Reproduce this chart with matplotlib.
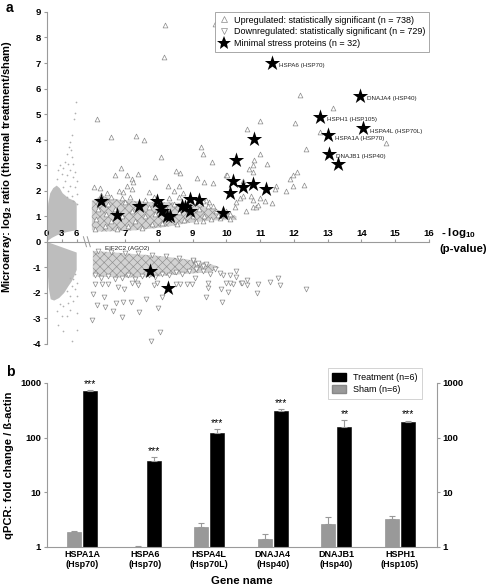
import numpy as np
import matplotlib
matplotlib.use('Agg')
import matplotlib.pyplot as plt
from matplotlib.lines import Line2D
from matplotlib.patches import Patch

plt.rcParams['font.family'] = ['Liberation Sans', 'DejaVu Sans']
plt.rcParams['mathtext.fontset'] = 'custom'
plt.rcParams['mathtext.rm'] = 'Liberation Sans'
plt.rcParams['mathtext.bf'] = 'Liberation Sans:bold'
plt.rcParams['hatch.linewidth'] = 0.45

# ---------------- panel a data ----------------
# non-significant genes: dense grey cloud outline (x <= 6, compressed part)
cloud_up_x = [0.0, 0.1, 0.3, 0.7, 1.3, 2.0, 2.6, 3.2, 3.8, 4.4, 5.0, 5.6, 6.0,
              6.0, 5.0, 4.0, 3.0, 2.0, 1.0, 0.3]
cloud_up_y = [0.05, 0.8, 1.5, 1.9, 2.1, 2.2, 2.1, 1.9, 1.8, 1.7, 1.65, 1.6, 1.5,
              0.45, 0.42, 0.38, 0.32, 0.25, 0.15, 0.05]
cloud_dn_x = [0.0, 6.0, 6.0, 5.5, 5.0, 4.3, 3.5, 2.5, 1.5, 0.8, 0.4, 0.15, 0.0]
cloud_dn_y = [0.0, -0.42, -1.1, -1.35, -1.55, -1.75, -2.0, -2.2, -2.3, -2.25,
              -1.8, -1.0, -0.2]
# scattered grey dots outside the dense cloud
dots_x = [5.8, 5.66, 5.46, 5.13, 4.66, 4.53, 4.86, 4.0, 5.0, 3.66, 4.33, 2.66, 3.33,
          5.33, 2.33, 3.0, 4.66, 5.66, 4.0, 5.2, 2.0, 6.0, 3.66, 4.66, 5.66, 4.33,
          3.33, 6.0, 5.0, 4.0, 5.33, 6.0,
          5.0, 3.33, 6.0, 2.33, 4.0, 3.0, 6.0, 4.66, 2.0, 3.33, 4.33, 5.33, 2.66,
          6.0, 4.66, 5.66, 4.0, 5.0, 6.0, 5.33, 4.66, 5.66]
dots_y = [5.48, 5.03, 4.79, 4.17, 3.91, 3.71, 3.58, 3.45, 3.32, 3.12, 3.06, 2.99, 2.9,
          3.06, 2.8, 2.67, 2.8, 2.73, 2.6, 2.53, 2.47, 2.4, 2.4, 2.2, 2.14, 2.0,
          2.14, 1.88, 1.81, 1.74, 1.61, 1.48,
          -3.87, -3.5, -3.44, -3.24, -2.91, -2.91, -2.78, -2.65, -2.72, -2.52, -2.39,
          -2.32, -2.45, -2.13, -2.13, -1.86, -1.93, -1.73, -1.6, -1.47, -1.4, -1.27]

# significant up-regulated: dense core outline + individual triangles
core_up_x = [6.02, 6.02, 6.3, 6.8, 7.3, 7.8, 8.3, 8.8, 9.2, 9.6, 10.0, 10.3,
             10.3, 9.8, 9.3, 8.8, 8.3, 7.8, 7.3, 6.8, 6.3]
core_up_y = [0.45, 1.6, 1.8, 1.65, 1.6, 1.55, 1.55, 1.5, 1.45, 1.3, 1.15, 1.0,
             0.85, 0.85, 0.8, 0.72, 0.6, 0.52, 0.45, 0.42, 0.4]
up_x = [8.18, 8.16, 9.66, 6.16, 6.59, 7.33, 7.56, 8.07, 6.87, 6.7, 7.05, 7.2, 7.25,
        7.38, 7.89, 8.51, 8.63, 9.24, 9.32, 9.12, 9.34, 9.57, 9.61, 10.0, 10.62,
        6.09, 6.26, 6.46, 6.82, 8.28, 8.71,
        12.18, 13.15, 10.99, 12.03, 12.77, 14.74, 12.35, 10.99, 10.82, 10.8, 11.19,
        12.08, 11.98, 11.9, 12.3, 11.78, 11.47, 10.48, 10.68, 10.78, 10.03, 11.98,
        11.44, 10.73, 10.78, 11.01, 11.14, 11.36, 10.8, 10.88, 10.93, 10.58, 10.3,
        10.4, 10.5, 10.25, 9.32, 10.0, 9.9, 10.1, 9.75, 9.6, 9.5, 9.4,
        7.05, 7.2, 6.95, 8.6, 8.45, 7.7,
        6.1, 6.15, 6.2, 6.25, 6.4, 6.45, 6.5, 6.6, 6.7, 6.75, 6.9, 7.0, 7.1, 7.2,
        7.3, 7.45, 7.5, 7.6, 7.7, 7.8, 7.9, 8.0, 8.1, 8.2, 8.35, 8.45, 8.55, 8.6,
        8.75, 8.85, 9.0, 9.1, 9.2, 9.35, 9.45, 9.55, 9.7, 9.8, 9.95, 10.1,
        6.3, 6.6, 6.9, 7.15, 7.6, 7.85, 8.3, 8.6, 8.9, 9.3]
up_y = [8.5, 7.23, 8.54, 4.8, 4.11, 4.15, 3.98, 3.32, 2.89, 2.6, 2.6, 2.47, 2.33,
        2.67, 2.53, 2.76, 2.7, 3.71, 3.43, 2.51, 2.36, 3.12, 2.3, 2.6, 4.4,
        2.14, 2.09, 1.9, 2.0, 2.2, 1.9,
        5.75, 5.22, 4.74, 4.66, 4.3, 3.87, 3.65, 3.43, 3.19, 3.02, 3.06,
        2.73, 2.6, 2.47, 2.23, 1.98, 2.2, 2.4, 2.86, 2.73, 2.6, 2.17,
        2.06, 1.78, 1.65, 1.72, 1.59, 1.53, 1.38, 1.38, 1.46, 1.22, 1.55,
        1.72, 1.81, 1.38, 0.83, 1.2, 1.3, 1.1, 1.05, 1.4, 1.55, 1.65,
        2.2, 2.05, 1.95, 2.2, 2.0, 1.95,
        0.5, 0.9, 1.3, 1.7, 0.6, 1.1, 1.5, 0.8, 1.3, 0.5, 1.0, 1.55, 0.6, 1.2,
        0.8, 1.5, 0.55, 1.0, 1.35, 0.7, 1.1, 1.5, 0.75, 1.3, 0.9, 1.5, 0.7, 1.15,
        0.85, 1.45, 1.0, 0.8, 1.3, 1.0, 1.4, 0.9, 1.2, 0.95, 1.05, 0.9,
        1.85, 1.75, 1.7, 1.75, 1.65, 1.75, 1.7, 1.75, 1.55, 1.6]

# significant down-regulated
core_dn_x = [6.05, 7.0, 8.0, 8.8, 9.5, 9.8, 9.5, 8.8, 8.0, 7.0, 6.05]
core_dn_y = [-0.35, -0.45, -0.55, -0.68, -0.85, -1.0, -1.2, -1.25, -1.35, -1.4, -1.35]
dn_x = [7.77, 8.04, 6.03, 6.9, 7.42, 7.98, 6.18, 6.41, 6.65, 6.72, 6.95, 7.17, 6.06,
        6.38, 7.62, 8.1, 6.11, 6.31, 6.49, 6.8, 6.98, 7.2, 7.35, 7.4, 7.85, 7.95,
        8.5, 8.63, 8.83, 8.98, 9.0, 9.1,
        9.86, 9.4, 10.04, 9.83, 9.46, 10.91, 10.94, 10.62, 10.62, 10.42, 10.45, 10.2,
        10.1, 10.0, 10.3, 10.3, 10.1, 9.9, 9.8, 11.29, 11.54, 11.59, 12.37,
        9.12, 9.17, 9.4, 9.66, 9.51, 9.32, 9.07, 9.46,
        6.1, 6.3, 6.5, 6.7, 6.9, 7.1, 7.3, 7.5, 7.7, 7.9, 8.1, 8.3, 8.5, 8.7, 8.9,
        9.1, 9.3, 6.2, 6.6, 7.0, 7.4, 7.8, 8.2, 8.6, 9.0]
dn_y = [-3.9, -3.53, -3.07, -2.95, -2.74, -2.59, -2.49, -2.55, -2.69, -2.39, -2.35,
        -2.35, -2.03, -2.17, -2.22, -2.17, -1.67, -1.67, -1.64, -1.77, -1.85, -1.6,
        -1.6, -1.7, -1.7, -1.6, -1.65, -1.67, -1.67, -1.67, -0.75, -0.85,
        -2.36, -2.17, -1.97, -1.84, -1.8, -2.0, -1.67, -1.71, -1.51, -1.6, -1.63,
        -1.67, -1.6, -1.6, -1.38, -1.14, -1.3, -1.28, -1.24, -1.57, -1.4, -1.7, -1.84,
        -1.01, -0.84, -0.85, -1.08, -1.27, -1.14, -1.4, -1.6,
        -1.3, -1.4, -1.35, -1.45, -1.4, -1.3, -1.45, -1.35, -1.3, -1.38, -1.25,
        -1.3, -1.2, -1.25, -1.15, -1.05, -0.95, -0.35, -0.4, -0.42, -0.45, -0.5,
        -0.55, -0.62, -0.7]

# minimal stress proteins
star_x = [11.34, 13.95, 12.77, 14.05, 13.02, 13.04, 13.32, 10.83, 10.50, 10.78,
          11.16, 10.28, 10.20, 10.11, 6.28, 6.77, 7.42, 7.94, 8.07, 8.10, 8.23,
          8.33, 8.68, 8.78, 8.92, 8.92, 9.20, 9.91, 7.74, 8.26]
star_y = [7.02, 5.72, 4.89, 4.44, 4.17, 3.45, 3.06, 4.04, 2.14, 2.27, 2.07, 3.22,
          2.40, 1.90, 1.61, 1.06, 1.39, 1.61, 1.35, 1.19, 1.02, 1.00, 1.42, 1.38,
          1.68, 1.19, 1.65, 1.13, -1.14, -1.82]
star_names = ['HSPA6 (HSP70)', 'DNAJA4 (HSP40)', 'HSPH1 (HSP105)',
              'HSPA4L (HSP70L)', 'HSPA1A (HSP70)', 'DNAJB1 (HSP40)']

x_ticks = [0, 3, 6, 7, 8, 9, 10, 11, 12, 13, 14, 15, 16]
y_ticks = [-4, -3, -2, -1, 0, 1, 2, 3, 4, 5, 6, 7, 8, 9]

# ---------------- panel b data ----------------
genes = ['HSPA1A\n(Hsp70)', 'HSPA6\n(Hsp70)', 'HSPA4L\n(Hsp70L)',
         'DNAJA4\n(Hsp40)', 'DNAJB1\n(Hsp40)', 'HSPH1\n(Hsp105)']
treat = [720, 37, 121, 307, 156, 193]
treat_err = [30, 7, 23, 26, 54, 11]
sham = [1.88, 1.02, 2.3, 1.42, 2.67, 3.25]
sham_err = [0.07, 0.02, 0.45, 0.33, 0.83, 0.45]
signif = ['***', '***', '***', '***', '**', '***']


# broken x axis: 0-6 squeezed, then linear from 6 on
def fwd(x):
    x = np.asarray(x, float)
    return np.where(x <= 6, x * 0.148, x - 4.683)


def inv(u):
    u = np.asarray(u, float)
    return np.where(u <= 0.888, u / 0.148, np.where(u < 1.317, 6.0, u + 4.683))


fig = plt.figure(figsize=(4.88, 5.86), dpi=100)
spine_c = '#9a9a9a'

# ================= panel a =================
ax = fig.add_axes([0.0957, 0.413, 0.7834, 0.5666])
ax.set_xscale('function', functions=(fwd, inv))
ax.set_xlim(0, 16)
ax.set_ylim(-4, 9)

ax.fill(cloud_up_x, cloud_up_y, color='#bdbdbd', lw=0, zorder=1)
ax.fill(cloud_dn_x, cloud_dn_y, color='#bdbdbd', lw=0, zorder=1)
ax.scatter(dots_x, dots_y, s=1.5, color='#b0b0b0', lw=0, zorder=1)

ax.fill(core_up_x, core_up_y, facecolor='#d2d2d2', edgecolor='#8f8f8f', hatch='xxxx',
        lw=0, zorder=1)
ax.fill(core_dn_x, core_dn_y, facecolor='#d2d2d2', edgecolor='#8f8f8f', hatch='xxxx',
        lw=0, zorder=1)
ax.scatter(up_x, up_y, marker='^', s=12, facecolors='white', edgecolors='#8a8a8a',
           linewidths=0.5, zorder=2)
ax.scatter(dn_x, dn_y, marker='v', s=12, facecolors='white', edgecolors='#8a8a8a',
           linewidths=0.5, zorder=2)
ax.scatter(star_x, star_y, marker='*', s=135, color='black', lw=0, zorder=3)

for i, name in enumerate(star_names):
    ax.annotate(name, (star_x[i], star_y[i]), xytext=(5, -2),
                textcoords='offset points', fontsize=4.5, va='center', color='#222222')
ax.text(6.41, -0.28, 'EIF2C2 (AGO2)', fontsize=4.5, va='center', color='#222222')

for s in ['right', 'bottom']:
    ax.spines[s].set_visible(False)
ax.spines['top'].set_position(('data', 0))
ax.spines['top'].set_color(spine_c)
ax.spines['left'].set_color(spine_c)
ax.xaxis.tick_top()
ax.set_xticks(x_ticks)
ax.set_xticklabels([str(t) for t in x_ticks], fontweight='bold', fontsize=6.8)
ax.set_yticks(y_ticks)
ax.set_yticklabels([str(t) for t in y_ticks], fontweight='bold', fontsize=6.8)
ax.tick_params(axis='x', length=2, pad=1, color=spine_c)
ax.tick_params(axis='y', length=2, pad=2, color=spine_c)
ax.minorticks_off()

# break marks on the x axis
for xb in (0.096, 0.106):
    ax.plot([xb, xb + 0.008], [0.323, 0.293], transform=ax.transAxes,
            color=spine_c, lw=0.7, clip_on=False)

ax.set_ylabel(r'Microarray: log$_\mathbf{2}$ ratio (thermal treatment/sham)',
              fontweight='bold', fontsize=8.1)
ax.yaxis.set_label_coords(-0.085, 0.535)
fig.text(0.904, 1 - 233 / 586, r'- log$_\mathbf{10}$', fontweight='bold',
         fontsize=8.2, va='center', ha='left')
fig.text(0.901, 1 - 249 / 586, '(p-value)', fontweight='bold', fontsize=8.2,
         va='center', ha='left')

handles_a = [
    Line2D([], [], ls='none', marker='^', ms=4, mfc='white', mec='#8a8a8a', mew=0.5),
    Line2D([], [], ls='none', marker='v', ms=4, mfc='white', mec='#8a8a8a', mew=0.5),
    Line2D([], [], ls='none', marker='*', ms=10, color='black', mew=0),
]
labels_a = ['Upregulated: statistically significant (n = 738)',
            'Downregulated: statistically significant (n = 729)',
            'Minimal stress proteins (n = 32)']
leg = ax.legend(handles_a, labels_a, loc='upper right', bbox_to_anchor=(1, 1),
                borderaxespad=0, fontsize=6.5, fancybox=False, framealpha=1,
                edgecolor=spine_c, handlelength=1.2, handletextpad=0.5,
                labelspacing=0.3, borderpad=0.4)
leg.get_frame().set_linewidth(0.6)

# ================= panel b =================
axb = fig.add_axes([0.0957, 0.0666, 0.7992, 0.2799])
xpos = np.arange(len(genes))
w = 0.22
axb.bar(xpos - 0.127, sham, w, color='#999999', edgecolor='#888888', lw=0.4,
        yerr=[np.zeros(len(sham)), sham_err],
        error_kw=dict(ecolor='#999999', capsize=2, elinewidth=0.8, capthick=0.8))
axb.bar(xpos + 0.127, treat, w, color='black', edgecolor='black', lw=0.4,
        yerr=[np.zeros(len(treat)), treat_err],
        error_kw=dict(ecolor='#999999', capsize=2, elinewidth=0.8, capthick=0.8))
for i, lab in enumerate(signif):
    axb.text(xpos[i] + 0.127, (treat[i] + treat_err[i]) * 1.05, lab, ha='center',
             va='bottom', fontsize=7.5)

axb.set_yscale('log')
axb.set_ylim(1, 1000)
axb.set_xlim(-0.555, 5.577)
axb.set_yticks([1, 10, 100, 1000])
axb.set_yticklabels(['1', '10', '100', '1000'], fontweight='bold', fontsize=6.8)
axb.minorticks_off()
axb.set_xticks(xpos)
axb.set_xticklabels(genes, fontweight='bold', fontsize=6.5)
axb.tick_params(axis='x', length=0, pad=2)
axb.tick_params(axis='y', length=2, pad=2, color=spine_c, right=True, labelright=True)
axb.spines['top'].set_visible(False)
for s in ['left', 'right', 'bottom']:
    axb.spines[s].set_color(spine_c)

axb.set_ylabel('qPCR: fold change / ß-actin', fontweight='bold', fontsize=8.1)
axb.yaxis.set_label_coords(-0.085, 0.5)
axb.set_xlabel('Gene name', fontweight='bold', fontsize=8.2, labelpad=5)

handles_b = [Patch(facecolor='black', edgecolor='black'),
             Patch(facecolor='#999999', edgecolor='#888888')]
legb = axb.legend(handles_b, ['Treatment (n=6)', 'Sham (n=6)'], loc='upper right',
                  bbox_to_anchor=(0.962, 1.091), borderaxespad=0, fontsize=6.5,
                  fancybox=False, framealpha=1, edgecolor='#cccccc',
                  handlelength=1.5, handleheight=1.1, labelspacing=0.3,
                  borderpad=0.5)
legb.get_frame().set_linewidth(0.6)

fig.text(0.012, 0.986, 'a', fontweight='bold', fontsize=10, va='center')
fig.text(0.012, 1 - 372 / 586, 'b', fontweight='bold', fontsize=10, va='center')

fig.savefig('out.png', dpi=100)
